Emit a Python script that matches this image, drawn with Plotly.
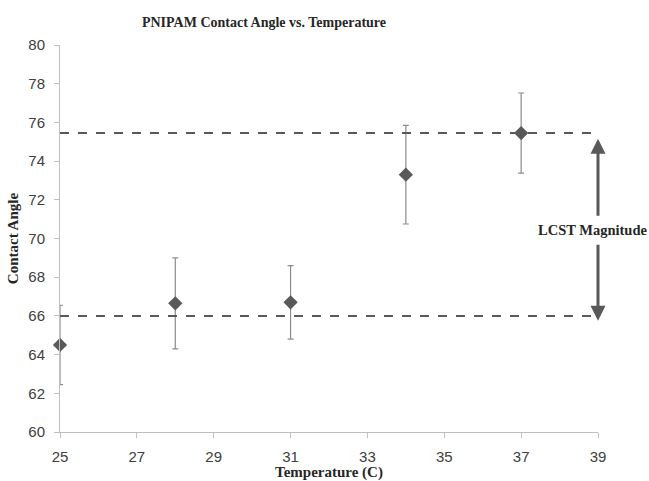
import plotly.graph_objects as go

temps = [25, 28, 31, 34, 37]
angles = [64.5, 66.65, 66.7, 73.3, 75.45]
errors = [2.05, 2.35, 1.9, 2.55, 2.07]
upper_level = 75.45
lower_level = 66.0
x_ticks = [25, 27, 29, 31, 33, 35, 37, 39]
y_ticks = [60, 62, 64, 66, 68, 70, 72, 74, 76, 78, 80]

serif = "Liberation Serif"
sans = "Liberation Sans"
dark = "#595959"

W, H = 649, 481
ML, MR, MT, MB = 60, 51, 45, 49

fig = go.Figure()
fig.add_trace(go.Scatter(
    x=temps, y=angles, mode="markers",
    marker=dict(symbol="diamond", size=11, color=dark),
    error_y=dict(type="data", array=errors, visible=True, color="#8c8c8c", thickness=1.2, width=3),
    cliponaxis=False, showlegend=False,
))

for lvl in [upper_level, lower_level]:
    fig.add_shape(type="line", xref="x", yref="y", x0=25, x1=39, y0=lvl, y1=lvl,
                  line=dict(color=dark, width=2, dash="dash"))

fig.add_annotation(x=39, y=75.15, ax=39, ay=71.1, xref="x", yref="y", axref="x", ayref="y",
                   text="", showarrow=True, arrowhead=2, arrowsize=1, arrowwidth=3, arrowcolor=dark)
fig.add_annotation(x=39, y=65.75, ax=39, ay=69.75, xref="x", yref="y", axref="x", ayref="y",
                   text="", showarrow=True, arrowhead=2, arrowsize=1, arrowwidth=3, arrowcolor=dark)
fig.add_annotation(x=39, y=70.45, xref="x", yref="y", text="<b>LCST Magnitude</b>", showarrow=False,
                   xshift=-6, font=dict(family=serif, size=14.5, color="#262626"))

fig.update_layout(
    width=W, height=H,
    margin=dict(l=ML, r=MR, t=MT, b=MB, autoexpand=False),
    paper_bgcolor="white", plot_bgcolor="white",
    title=dict(text="<b>PNIPAM Contact Angle vs. Temperature</b>",
               x=(264 - ML) / (W - ML - MR), xref="paper", xanchor="center",
               y=1 - 22 / H, yref="container", yanchor="middle",
               font=dict(family=serif, size=14, color="#262626"), automargin=False),
    xaxis=dict(range=[25, 39], tickvals=x_ticks, showgrid=False, zeroline=False,
               showline=True, linecolor="#bfbfbf", linewidth=1, ticks="outside", ticklen=5,
               tickcolor="#bfbfbf", tickfont=dict(family=sans, size=15, color="#404040"),
               ticklabelstandoff=6, automargin=False,
               title=dict(text="<b>Temperature (C)</b>", font=dict(family=serif, size=15, color="#262626"), standoff=2)),
    yaxis=dict(range=[60, 80], tickvals=y_ticks, showgrid=False, zeroline=False,
               showline=True, linecolor="#bfbfbf", linewidth=1, ticks="outside", ticklen=5,
               tickcolor="#bfbfbf", tickfont=dict(family=sans, size=15, color="#404040"),
               ticklabelstandoff=6, automargin=False,
               title=dict(text="<b>Contact Angle</b>", font=dict(family=serif, size=15, color="#262626"), standoff=6)),
)

fig.write_html("out.html")
